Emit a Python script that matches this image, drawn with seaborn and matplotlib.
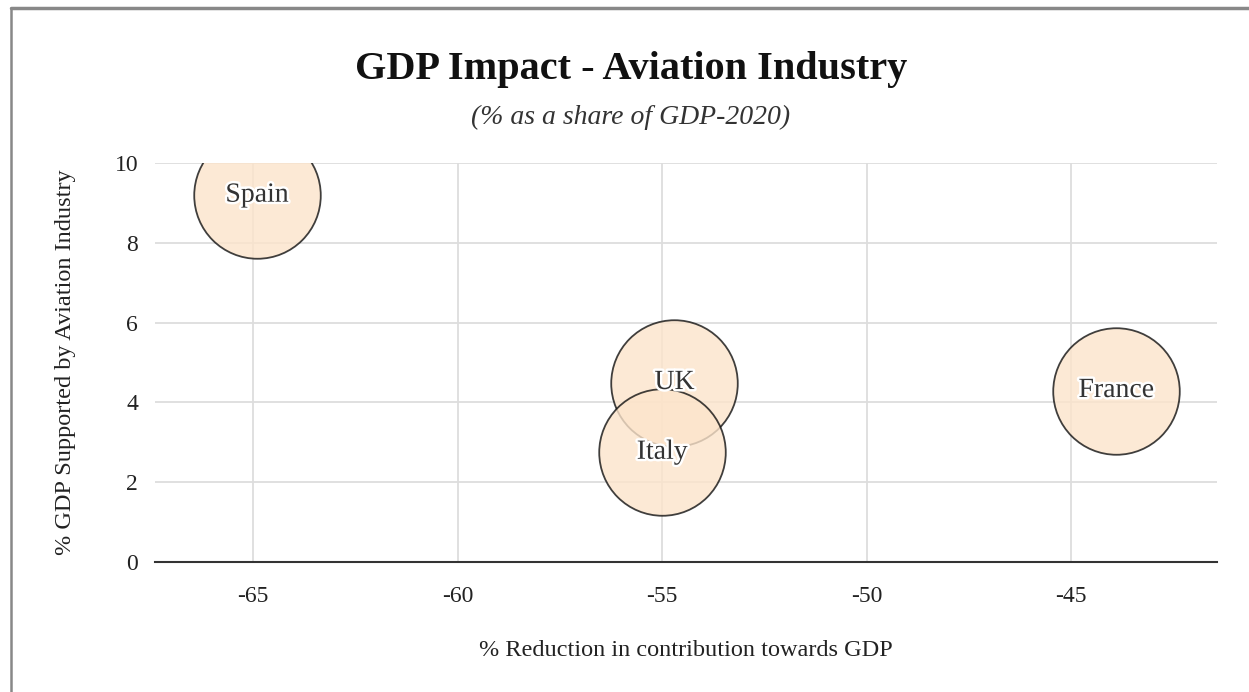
import pandas as pd
import seaborn as sns
import matplotlib.pyplot as plt
import matplotlib.patheffects as pe
from matplotlib.lines import Line2D
from matplotlib.ticker import FuncFormatter

# data
countries = ["Spain", "UK", "Italy", "France"]
reduction = [-64.9, -54.7, -55.0, -43.9]
gdp_share = [9.2, 4.5, 2.75, 4.3]

df = pd.DataFrame({"country": countries, "reduction": reduction, "gdp": gdp_share})

sns.set_style("white")
plt.rcParams['font.family'] = ['Liberation Serif', 'DejaVu Serif']

fig = plt.figure(figsize=(12.49, 6.92), dpi=100)
ax = fig.add_axes([0.124, 0.188, 0.850, 0.576])

sns.scatterplot(data=df, x="reduction", y="gdp", s=8300, color="#fce4cb",
                alpha=0.8, edgecolor="#111111", linewidth=1.3, ax=ax, zorder=3)

for _, r in df.iterrows():
    ax.text(r.reduction, r.gdp, r.country, ha="center", va="center", fontsize=20,
            color="#333333", zorder=5,
            path_effects=[pe.withStroke(linewidth=3.5, foreground="white")])

ax.set_xlim(-67.4, -41.45)
ax.set_ylim(0, 10)
ax.set_xticks([-65, -60, -55, -50, -45])
ax.set_yticks([0, 2, 4, 6, 8, 10])
# plain hyphen instead of unicode minus
ax.xaxis.set_major_formatter(FuncFormatter(lambda v, p: "%d" % v))
ax.grid(True, color="#dddddd", linewidth=1.3, zorder=0)
ax.set_axisbelow(True)
for s in ["top", "right", "left"]:
    ax.spines[s].set_visible(False)
ax.spines["bottom"].set_color("#333333")
ax.spines["bottom"].set_linewidth(1.5)
ax.spines["bottom"].set_zorder(4)
ax.tick_params(axis="x", length=0, pad=17, labelsize=17, labelcolor="#222222")
ax.tick_params(axis="y", length=0, pad=12, labelsize=17, labelcolor="#222222")

ax.set_xlabel("% Reduction in contribution towards GDP", fontsize=17.5, color="#222222", labelpad=24)
ax.set_ylabel("% GDP Supported by Aviation Industry", fontsize=17.5, color="#222222", labelpad=28)

fig.text(0.505, 0.899, "GDP Impact - Aviation Industry", ha="center", va="center",
         fontsize=29, fontweight="bold", color="#111111")
fig.text(0.505, 0.831, "(% as a share of GDP-2020)", ha="center", va="center",
         fontsize=20, fontstyle="italic", color="#333333")

# screenshot frame
fig.add_artist(Line2D([0.009, 1.0], [0.988, 0.988], color="#888888", linewidth=2.5, transform=fig.transFigure))
fig.add_artist(Line2D([0.009, 0.009], [0.0, 0.988], color="#888888", linewidth=1.8, transform=fig.transFigure))

fig.savefig("out.png", dpi=100)
